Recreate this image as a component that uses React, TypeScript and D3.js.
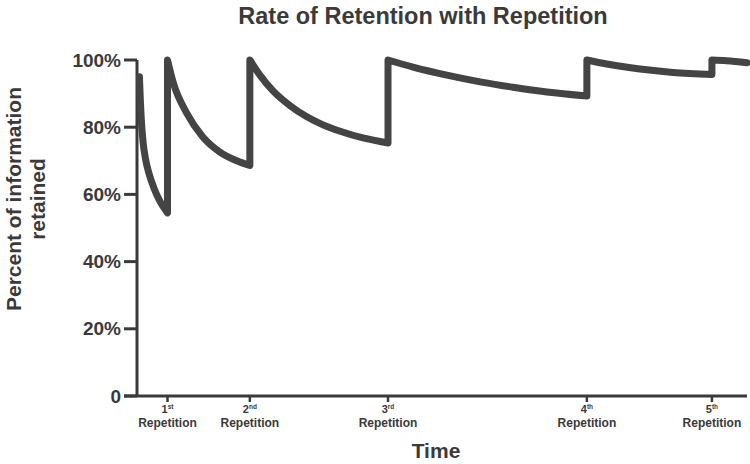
import React from 'react';
import * as d3 from 'd3';

// retention curve, one piece per interval between repetitions
const seg0Time = [0.08, 0.11, 0.15, 0.2, 0.28, 0.4, 0.55, 0.75, 1.0];
const seg0Value = [95, 88, 81, 75.5, 70.5, 66, 62, 58, 54.5];
const seg1Time = [1.0, 1.19, 1.63, 2.16, 2.72, 3.27, 3.7];
const seg1Value = [100, 93.2, 84.2, 77.1, 72.6, 70.0, 68.6];
const seg2Time = [3.7, 4.03, 4.46, 5.02, 5.57, 6.1, 6.66, 7.41, 8.23];
const seg2Value = [100, 95.5, 90.8, 86.4, 83.1, 80.7, 78.8, 76.8, 75.3];
const seg3Time = [8.23, 9.05, 10.16, 11.25, 12.33, 13.44, 14.75];
const seg3Value = [100, 97.9, 95.5, 93.5, 91.9, 90.5, 89.3];
const seg4Time = [14.75, 15.4, 16.49, 17.57, 18.85];
const seg4Value = [100, 98.8, 97.3, 96.3, 95.7];
const seg5Time = [18.85, 19.33, 20];
const seg5Value = [100, 99.8, 99.2];

const repTimes = [1.0, 3.7, 8.23, 14.75, 18.85];
const repNums = ['1', '2', '3', '4', '5'];
const repSuffix = ['st', 'nd', 'rd', 'th', 'th'];
const yTicks = [0, 20, 40, 60, 80, 100];

const W = 750;
const H = 464;
const FONT = '"Liberation Sans", Arial, Helvetica, sans-serif';
const INK = '#3a3a3a';

export default function App() {
  const x = d3.scaleLinear().domain([0, 20]).range([137, 747]);
  const y = d3.scaleLinear().domain([0, 100]).range([396, 60]);

  const segments = [
    [seg0Time, seg0Value],
    [seg1Time, seg1Value],
    [seg2Time, seg2Value],
    [seg3Time, seg3Value],
    [seg4Time, seg4Value],
    [seg5Time, seg5Value],
  ];

  const line = d3
    .line<[number, number]>()
    .x(d => x(d[0]))
    .y(d => y(d[1]))
    .curve(d3.curveMonotoneX);

  // join the pieces into one path so the jumps are vertical strokes
  const pathD = segments
    .map(([ts, vs], i) => {
      const d = line(ts.map((t, j) => [t, vs[j]] as [number, number])) || '';
      return i === 0 ? d : 'L' + d.slice(1);
    })
    .join('');

  const x0 = x(0);
  const yBase = y(0);

  return (
    <svg width={W} height={H} style={{ position: 'absolute', left: 0, top: 0, background: '#fff' }}>
      <text x={423} y={24} textAnchor="middle" fontFamily={FONT} fontWeight="bold" fontSize={23.5} fill={INK}>
        Rate of Retention with Repetition
      </text>

      {/* y axis */}
      <line x1={x0} x2={x0} y1={y(100)} y2={yBase} stroke={INK} strokeWidth={3} />
      {yTicks.map(t => (
        <g key={t}>
          <line x1={x0 - 13} x2={x0} y1={y(t)} y2={y(t)} stroke={INK} strokeWidth={3} />
          <text
            x={x0 - 16}
            y={y(t)}
            dy="0.35em"
            textAnchor="end"
            fontFamily={FONT}
            fontWeight="bold"
            fontSize={19}
            fill={INK}
          >
            {t === 0 ? '0' : `${t}%`}
          </text>
        </g>
      ))}

      {/* x axis */}
      <line x1={x0 - 13} x2={x(20)} y1={yBase} y2={yBase} stroke={INK} strokeWidth={3} />
      {repTimes.map((t, i) => (
        <g key={i} transform={`translate(${x(t)},${yBase})`}>
          <line y1={0} y2={6} stroke={INK} strokeWidth={2.5} />
          <text y={17} textAnchor="middle" fontFamily={FONT} fontWeight="bold" fontSize={11} fill={INK}>
            {repNums[i]}
            <tspan fontSize={6.5} dy={-4.5}>
              {repSuffix[i]}
            </tspan>
          </text>
          <text y={31} textAnchor="middle" fontFamily={FONT} fontWeight="bold" fontSize={12} fill={INK}>
            Repetition
          </text>
        </g>
      ))}

      <text x={436} y={458} textAnchor="middle" fontFamily={FONT} fontWeight="bold" fontSize={21} fill={INK}>
        Time
      </text>

      <g transform="translate(0,199) rotate(-90)" fontFamily={FONT} fontWeight="bold" fontSize={21} fill={INK}>
        <text x={0} y={21} textAnchor="middle">
          Percent of information
        </text>
        <text x={0} y={45} textAnchor="middle">
          retained
        </text>
      </g>

      <path d={pathD} fill="none" stroke="#444" strokeWidth={7} strokeLinejoin="round" strokeLinecap="round" />
    </svg>
  );
}
